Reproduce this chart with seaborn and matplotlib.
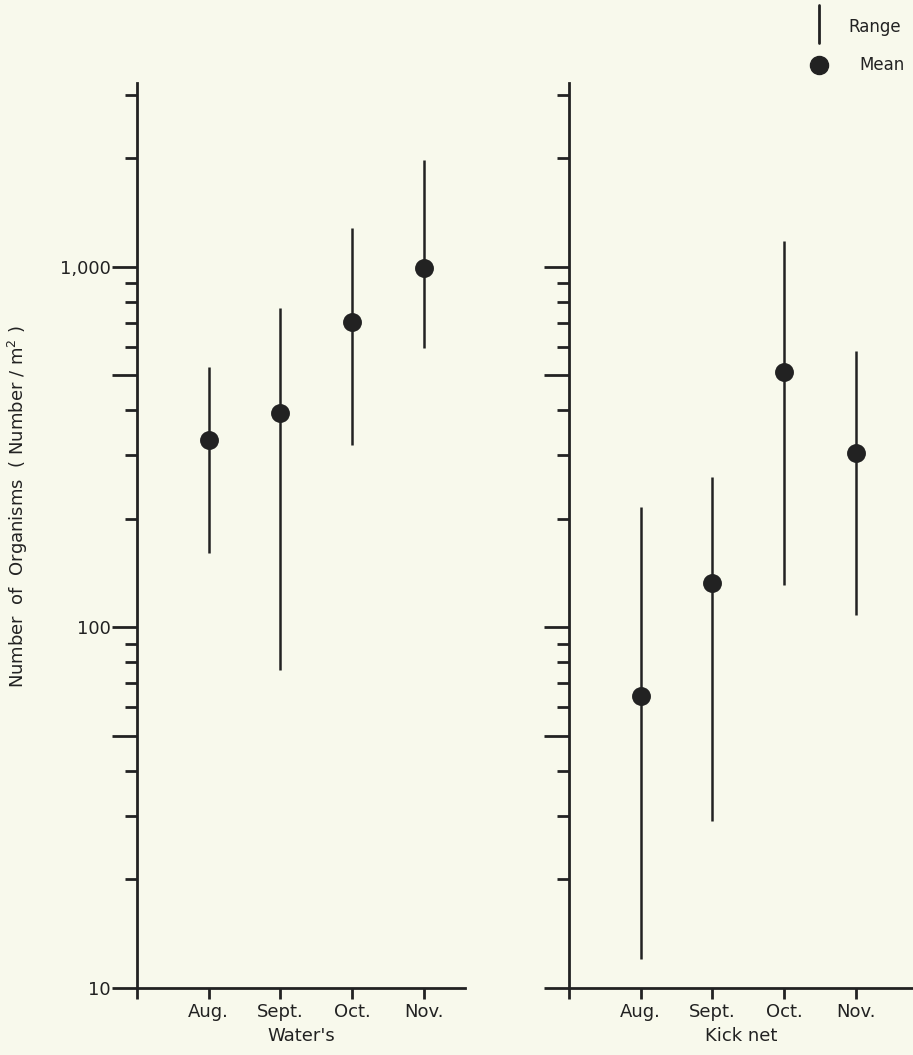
"""
Recreate the two-panel log-scale range/mean chart (Water's vs Kick net).
"""

import numpy as np
import pandas as pd
import matplotlib
matplotlib.use('Agg')
import matplotlib.pyplot as plt
from matplotlib.ticker import FixedLocator, FuncFormatter, NullFormatter
from matplotlib.lines import Line2D
import seaborn as sns


# Data
months = ['Aug.', 'Sept.', 'Oct.', 'Nov.']

waters_mean = [331, 394, 703, 993]
waters_low = [161, 76, 320, 596]
waters_high = [528, 769, 1283, 1981]

kick_mean = [64.5, 133, 511, 305]
kick_low = [12, 29, 131, 108]
kick_high = [216, 261, 1181, 585]

panel_names = ["Water's", 'Kick net']

major_ticks = [10, 50, 100, 500, 1000]
minor_ticks = [20, 30, 40, 60, 70, 80, 90,
               200, 300, 400, 600, 700, 800, 900, 2000, 3000]
labelled_ticks = {10: '10', 100: '100', 1000: '1,000'}

bg = '#f8f9ec'
ink = '#222222'

sns.set_style('white')
plt.rcParams['font.family'] = ['DejaVu Sans']
plt.rcParams['text.color'] = ink
plt.rcParams['axes.labelcolor'] = ink
plt.rcParams['xtick.color'] = ink
plt.rcParams['ytick.color'] = ink

fig = plt.figure(figsize=(9.13, 10.55), dpi=100, facecolor=bg)

ax_left = fig.add_axes([137 / 913, 0.0635, 328 / 913, 0.8578])
ax_right = fig.add_axes([569 / 913, 0.0635, 344 / 913, 0.8578])

panels = [
    (ax_left, waters_mean, waters_low, waters_high, 4.575, True),
    (ax_right, kick_mean, kick_low, kick_high, 4.8, False),
]

for (ax, mean, low, high, xmax, show_labels), name in zip(panels, panel_names):
    df = pd.DataFrame({'pos': np.arange(1, len(months) + 1), 'mean': mean,
                       'low': low, 'high': high})
    ax.set_facecolor(bg)
    ax.set_yscale('log')

    # range bars, then the mean dots on top
    ax.vlines(df['pos'], df['low'], df['high'], color=ink, linewidth=1.8, zorder=2)
    sns.scatterplot(data=df, x='pos', y='mean', ax=ax, s=185, color=ink,
                    edgecolor=ink, linewidth=0, zorder=3, legend=False)

    ax.set_xlim(0, xmax)
    ax.set_ylim(10, 3236)

    ax.set_xticks([0, 1, 2, 3, 4])
    ax.set_xticklabels([''] + months, fontsize=13)
    ax.set_xlabel(name, fontsize=13, labelpad=4)
    ax.set_ylabel('')

    ax.yaxis.set_major_locator(FixedLocator(major_ticks))
    ax.yaxis.set_minor_locator(FixedLocator(minor_ticks))
    ax.yaxis.set_minor_formatter(NullFormatter())
    if show_labels:
        ax.yaxis.set_major_formatter(
            FuncFormatter(lambda v, p: labelled_ticks.get(int(round(v)), '')))
    else:
        ax.yaxis.set_major_formatter(NullFormatter())

    ax.tick_params(axis='both', which='both', left=True, bottom=True)
    ax.tick_params(axis='y', which='major', length=18, width=2, labelsize=13, pad=1)
    ax.tick_params(axis='y', which='minor', length=9, width=2)
    ax.tick_params(axis='x', which='major', length=8, width=2, direction='out', pad=3)

    for side in ['top', 'right']:
        ax.spines[side].set_visible(False)
    for side in ['left', 'bottom']:
        ax.spines[side].set_linewidth(2)
        ax.spines[side].set_color(ink)

fig.text(0.02, 0.52, 'Number  of  Organisms  ( Number / m$^2$ )', rotation=90,
         ha='center', va='center', fontsize=13, color=ink)

# Legend in the top right corner
fig.add_artist(Line2D([0.897, 0.897], [0.995, 0.959], color=ink, linewidth=2,
                      transform=fig.transFigure))
fig.add_artist(Line2D([0.897], [0.938], color=ink, marker='o', markersize=13,
                      linestyle='none', transform=fig.transFigure))
fig.text(0.929, 0.974, 'Range', ha='left', va='center', fontsize=12, color=ink)
fig.text(0.991, 0.938, 'Mean', ha='right', va='center', fontsize=12, color=ink)

plt.savefig('out.png', dpi=100, facecolor=bg)
plt.close()
